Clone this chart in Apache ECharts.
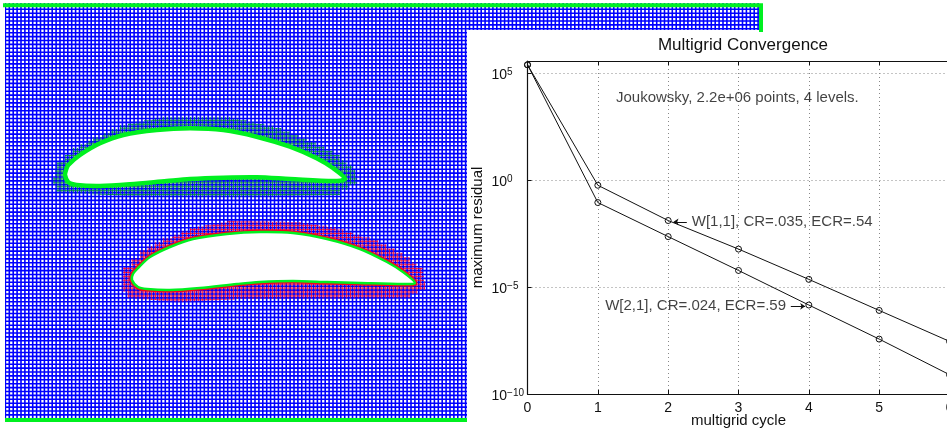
<!DOCTYPE html>
<html><head><meta charset="utf-8">
<style>html,body{margin:0;padding:0;background:#fff}#c{width:947px;height:434px}</style>
<script src="https://cdn.jsdelivr.net/npm/echarts@6/dist/echarts.min.js"></script>
</head><body><div id="c"></div>
<script>
const cycles = [0,1,2,3,4,5,6];
const w11 = [2.5e5,0.58,0.013,6e-4,2.3e-5,8.1e-7,2.9e-8];
const w21 = [2.5e5,0.09,2.3e-3,6e-5,1.45e-6,3.7e-8,8e-10];
const notes = [
 {x:2.335,y:0.0113,text:'W[1,1], CR=.035, ECR=.54',pos:'right'},
 {x:3.676,y:1.35e-6,text:'W[2,1], CR=.024, ECR=.59',pos:'left'},
 {x:1.258,y:6.8e3,text:'Joukowsky, 2.2e+06 points, 4 levels.',pos:'right'}
];
const arrowA = [[2.265,0.0113],[2.076,0.0113]];
const arrowB = [[3.744,1.26e-6],[3.948,1.26e-6]];
const meshOutline = [[5,3],[761,3],[761,30],[467,30],[467,422],[5,422]];
const upperFoil = [[65,175],[66,170],[68.3,165],[80,155],[100,143.3],[123.3,135],[156.7,130],[190,128.3],[223.3,130],[256.7,136.7],[290,146.7],[316.7,158.3],[333.3,168.3],[345,179],[333.3,181],[290,179],[256.7,177.3],[223.3,177.7],[190,179],[166.7,181],[130,184.3],[100,186],[76.7,185],[68.3,182.3]];
const upperBand = [[160,117],[223,117],[247,122],[273,128],[307,142],[333,155],[353,170],[357,185],[340,195],[240,197],[130,196],[60,192],[53,177],[57,162],[73,148],[93,137],[120,125]];
const lowerFoil = [[132,280],[133,274],[138,268],[150,257],[170,247],[193,239],[227,234],[260,232],[293,233],[327,239],[360,249],[387,262],[403,272],[415,283],[403,284],[360,283],[327,282],[293,281],[260,282],[237,284],[200,288],[170,290],[147,289],[138,287]];
const lowerBand = [[227,221],[293,222],[327,227],[370,240],[403,257],[423,273],[425,290],[410,298],[243,299],[183,302],[133,298],[122,285],[123,267],[140,250],[163,238],[190,228]];
const meshEdge = [[5,5.3],[761,5.3],[761,30]];
const meshBottom = [[5,420],[467,420]];

function tile(col,lw,off){
  const c=document.createElement('canvas');c.width=39;c.height=39;
  const g=c.getContext('2d');g.strokeStyle=col;g.lineWidth=lw;
  for(let i=0;i<10;i++){const p=i*3.9+off;
    g.beginPath();g.moveTo(p,0);g.lineTo(p,39);g.stroke();
    g.beginPath();g.moveTo(0,p);g.lineTo(39,p);g.stroke();}
  return c;
}
function stair(pts,step){
  const out=[];
  pts.forEach((p,i)=>{
    const q=pts[(i+1)%pts.length];
    const n=Math.max(1,Math.round(Math.max(Math.abs(q[0]-p[0]),Math.abs(q[1]-p[1]))/step));
    for(let k=0;k<n;k++){
      const a=[p[0]+(q[0]-p[0])*k/n,p[1]+(q[1]-p[1])*k/n];
      const b=[p[0]+(q[0]-p[0])*(k+1)/n,p[1]+(q[1]-p[1])*(k+1)/n];
      out.push(a,[b[0],a[1]]);
    }
  });
  return out;
}
const meshTile=tile('#0000ff',1.6,1.5);
const greenTile=tile('rgba(0,140,60,0.85)',1,3.4);
const redTile=tile('rgba(245,0,40,0.8)',1,3.4);

const shapes=[
 {pts:meshOutline,fill:{image:meshTile,repeat:'repeat'},stroke:null,lw:0,smooth:0},
 {pts:stair(upperBand,8),fill:{image:greenTile,repeat:'repeat'},stroke:null,lw:0,smooth:0},
 {pts:stair(lowerBand,8),fill:{image:redTile,repeat:'repeat'},stroke:null,lw:0,smooth:0},
 {pts:upperFoil,fill:'#fff',stroke:'#00f020',lw:4.5,smooth:0.3},
 {pts:lowerFoil,fill:'#fff',stroke:'#f5001e',lw:5,smooth:0.3},
 {pts:lowerFoil,fill:'#fff',stroke:'#00f020',lw:2.5,smooth:0.3}
];
const dark='#111';
const font='"Liberation Sans",Arial,sans-serif';
function arrowLine(seg){
  return {silent:true,symbol:['none','arrow'],symbolSize:5,label:{show:false},
    lineStyle:{color:dark,width:1,type:'solid'},
    data:[[{coord:seg[0]},{coord:seg[1]}]]};
}
const chart=echarts.init(document.getElementById('c'),null,{renderer:'canvas'});
chart.setOption({
 animation:false,backgroundColor:'#fff',
 title:{text:'Multigrid Convergence',left:738,top:32,textAlign:'center',
   textStyle:{fontFamily:font,fontSize:17,fontWeight:'normal',color:dark}},
 grid:[
  {left:5,top:3,width:757,height:419,outerBoundsMode:'none'},
  {left:527.5,top:61,width:422,height:333,outerBoundsMode:'none'}
 ],
 xAxis:[
  {type:'value',gridIndex:0,min:5,max:762,show:false},
  {type:'value',gridIndex:1,min:0,max:6,interval:1,name:'multigrid cycle',nameLocation:'middle',nameGap:27,nameMoveOverlap:false,
   nameTextStyle:{fontFamily:font,fontSize:15,color:dark,verticalAlign:'middle'},
   axisLine:{show:true,onZero:false,lineStyle:{color:dark,width:1.2}},
   axisTick:{show:true,inside:true,length:4,lineStyle:{color:dark}},
   axisLabel:{fontFamily:font,fontSize:14,color:dark,margin:7,hideOverlap:false,showMaxLabel:true},
   splitLine:{show:true,lineStyle:{color:'#888',type:[1,3],width:1}}},
  {type:'value',gridIndex:1,position:'top',min:0,max:6,interval:1,
   axisLine:{show:true,onZero:false,lineStyle:{color:dark,width:1.2}},
   axisTick:{show:true,inside:true,length:4,lineStyle:{color:dark}},
   axisLabel:{show:false},splitLine:{show:false}}
 ],
 yAxis:[
  {type:'value',gridIndex:0,min:3,max:422,inverse:true,show:false},
  {type:'log',gridIndex:1,logBase:10,min:1e-10,max:Math.pow(10,5.575),interval:5,
   name:'maximum residual',nameLocation:'middle',nameGap:49.5,nameRotate:90,nameMoveOverlap:false,
   nameTextStyle:{fontFamily:font,fontSize:15,color:dark,verticalAlign:'middle'},
   axisLine:{show:true,onZero:false,lineStyle:{color:dark,width:1.2}},
   axisTick:{show:true,inside:true,length:4,lineStyle:{color:dark}},
   minorTick:{show:false},minorSplitLine:{show:false},
   splitLine:{show:true,lineStyle:{color:'#888',type:[1,3],width:1}},
   axisLabel:{margin:36,align:'left',showMinLabel:true,padding:[4,0,0,0],
     formatter:function(v){const e=Math.round(Math.log10(v)*1000)/1000;
       if(e%5!==0)return '';
       return '{b|10}{s|'+(e<0?'\u2212'+(-e):e)+'}';},
     rich:{b:{fontFamily:font,fontSize:14,color:dark,lineHeight:16},
           s:{fontFamily:font,fontSize:10,color:dark,verticalAlign:'top',lineHeight:16,padding:[0,0,8,0]}}}}
 ],
 series:[
  {type:'custom',xAxisIndex:0,yAxisIndex:0,z:3,silent:true,clip:false,
   data:shapes.map((s,i)=>[i]),encode:{x:-1,y:-1},
   renderItem:function(p,api){
     const s=shapes[p.dataIndex];
     return {type:'polygon',shape:{points:s.pts.map(q=>api.coord(q)),smooth:s.smooth},
       style:{fill:s.fill,stroke:s.stroke,lineWidth:s.lw,lineJoin:'round'}};
   }},
  {type:'line',xAxisIndex:0,yAxisIndex:0,z:4,silent:true,symbol:'none',data:meshEdge,clip:false,
   lineStyle:{color:'#00f020',width:4,cap:'square',join:'miter'}},
  {type:'line',xAxisIndex:0,yAxisIndex:0,z:4,silent:true,symbol:'none',data:meshBottom,clip:false,
   lineStyle:{color:'#00f020',width:4}},
  {name:'W[1,1]',type:'line',xAxisIndex:1,yAxisIndex:1,z:5,clip:false,symbol:'circle',symbolSize:6,
   data:cycles.map((c,i)=>[c,w11[i]]),lineStyle:{color:dark,width:1},
   itemStyle:{color:'rgba(0,0,0,0)',borderColor:dark,borderWidth:1},markLine:arrowLine(arrowA)},
  {name:'W[2,1]',type:'line',xAxisIndex:1,yAxisIndex:1,z:5,clip:false,symbol:'circle',symbolSize:6,
   data:cycles.map((c,i)=>[c,w21[i]]),lineStyle:{color:dark,width:1},
   itemStyle:{color:'rgba(0,0,0,0)',borderColor:dark,borderWidth:1},markLine:arrowLine(arrowB)},
  {type:'scatter',xAxisIndex:1,yAxisIndex:1,z:6,symbolSize:0,silent:true,
   data:notes.map(n=>({value:[n.x,n.y],label:{show:true,position:n.pos,distance:0,formatter:n.text,
     fontFamily:font,fontSize:15,color:dark}}))}
 ]
});
</script></body></html>
